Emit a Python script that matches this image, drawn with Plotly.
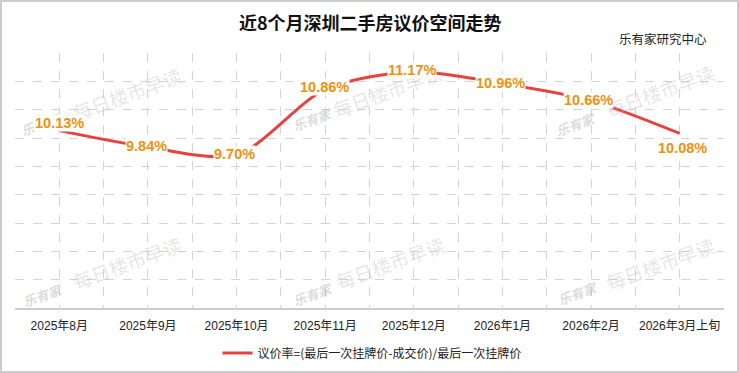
import plotly.graph_objects as go

# ---- data ----
months = ["2025年8月", "2025年9月", "2025年10月", "2025年11月",
          "2025年12月", "2026年1月", "2026年2月", "2026年3月上旬"]
rate = [10.13, 9.84, 9.70, 10.86, 11.17, 10.96, 10.66, 10.08]
series_name = "议价率=(最后一次挂牌价-成交价)/最后一次挂牌价"
title_text = "近8个月深圳二手房议价空间走势"
source_text = "乐有家研究中心"
wm_logo = "乐有家"
wm_text = "每日楼市早读"

W, H = 739, 373
ML, MR, MT, MB = 15, 15, 53, 65
PW, PH = W - ML - MR, H - MT - MB


def px(x):
    return (x - ML) / PW


def py(y):
    return 1 - (y - MT) / PH


xs = list(range(len(months)))
LINE = "#e8413f"
LABEL = "#f0900f"
GRID = "#d4d4d4"

fig = go.Figure()
fig.add_trace(go.Scatter(
    x=xs, y=rate, mode="lines", name=series_name,
    line=dict(color=LINE, width=3, shape="spline", smoothing=0.8),
    hoverinfo="skip",
))

annotations = []
# watermarks
wm_pos = [(127, 93, 40, 124), (387, 90, 312, 120), (660, 90, 575, 124),
          (127, 262, 42, 295), (390, 262, 312, 294), (660, 263, 577, 293)]
for tx, ty, lx, ly in wm_pos:
    annotations.append(dict(x=px(tx), y=py(ty), xref="paper", yref="paper",
                            xanchor="center", yanchor="middle",
                            text=wm_text, showarrow=False, textangle=-20,
                            font=dict(size=19, color="rgba(190,190,190,0.38)",
                                      family="Noto Sans CJK SC")))
    annotations.append(dict(x=px(lx), y=py(ly), xref="paper", yref="paper",
                            xanchor="center", yanchor="middle",
                            text="<b><i>" + wm_logo + "</i></b>", showarrow=False,
                            textangle=-20,
                            font=dict(size=13, color="rgba(170,170,170,0.42)",
                                      family="Noto Sans CJK SC")))

# data labels
shifts = [(0, 8), (-1, 1), (-2, 1), (-1, 2), (-2, 2), (-2, 1), (-3, 1), (3, -15)]
for i, v in enumerate(rate):
    dx, dy = shifts[i]
    annotations.append(dict(x=xs[i], y=v, xref="x", yref="y",
                            xanchor="center", yanchor="middle",
                            text="<b>%.2f%%</b>" % v, showarrow=False,
                            xshift=dx, yshift=dy, bgcolor="white", borderpad=0,
                            font=dict(size=14.5, color=LABEL,
                                      family="Liberation Sans, Arial")))

# title & source
annotations.append(dict(x=px(370), y=py(22), xref="paper", yref="paper",
                        xanchor="center", yanchor="middle",
                        text="<b>" + title_text + "</b>", showarrow=False,
                        font=dict(size=18, color="#111111",
                                  family="Noto Sans CJK SC")))
annotations.append(dict(x=px(709), y=py(39), xref="paper", yref="paper",
                        xanchor="right", yanchor="middle",
                        text=source_text, showarrow=False,
                        font=dict(size=12.5, color="#222222",
                                  family="Noto Sans CJK SC")))

fig.update_layout(
    width=W, height=H,
    margin=dict(l=ML, r=MR, t=MT, b=MB, autoexpand=False),
    paper_bgcolor="white", plot_bgcolor="white",
    showlegend=True,
    legend=dict(orientation="h", x=px(372), xanchor="center",
                y=py(353), yanchor="middle",
                font=dict(size=12, color="#222222", family="Noto Sans CJK SC"),
                itemwidth=30),
    annotations=annotations,
    font=dict(family="Noto Sans CJK SC"),
    shapes=[dict(type="rect", xref="paper", yref="paper",
                 x0=px(1), x1=px(W - 1), y0=py(H - 1), y1=py(1),
                 line=dict(color="#cccccc", width=2), layer="below")],
)

fig.update_xaxes(
    range=[-0.5, len(months) - 0.5],
    tickmode="array", tickvals=xs, ticktext=months,
    tickfont=dict(size=12, color="#222222", family="Liberation Sans, Noto Sans CJK SC"),
    ticklabelstandoff=6,
    showgrid=True, gridcolor=GRID, griddash="dash", gridwidth=1,
    minor=dict(tickmode="linear", tick0=-0.5, dtick=1, showgrid=True,
               gridcolor=GRID, griddash="dash", gridwidth=1),
    showline=True, linecolor="#cccccc", linewidth=1.5,
    ticks="", zeroline=False, fixedrange=True,
)
fig.update_yaxes(
    range=[7.0, 11.5], dtick=0.5, tick0=7.0,
    showticklabels=False, ticks="",
    showgrid=True, gridcolor=GRID, griddash="dash", gridwidth=1,
    zeroline=False, showline=False, fixedrange=True,
)

fig.write_html("out.html",
               config={"displayModeBar": False, "staticPlot": True},
               post_script="document.body.style.margin='0';"
                           "document.body.style.overflow='hidden';")
